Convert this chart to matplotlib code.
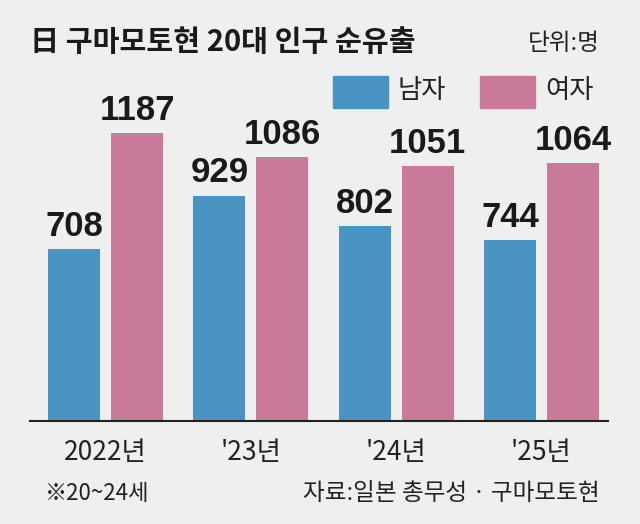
import numpy as np
import matplotlib
matplotlib.use("Agg")
import matplotlib.pyplot as plt
from matplotlib.patches import Rectangle

plt.rcParams['font.family'] = ['Noto Sans CJK KR', 'DejaVu Sans']

# Data
years = ['2022년', "'23년", "'24년", "'25년"]
male = [708, 929, 802, 744]
female = [1187, 1086, 1051, 1064]

BG = '#efefef'
BLUE = '#4a94c4'
PINK = '#c97a9a'
W, H = 640, 524

fig = plt.figure(figsize=(W / 100, H / 100), dpi=100, facecolor=BG)

def fx(px):
    return px / W

def fy(py):
    return 1 - py / H

# axes: baseline at y=421, x from 30 to 608
ax = fig.add_axes([fx(30), fy(421), fx(578), 364 / H])
ax.set_facecolor(BG)
ax.set_xlim(-0.52, 3.458)
ax.set_ylim(0, 1500)

x = np.arange(len(years))
bw = 0.358
off = 0.217
ax.bar(x - off, male, bw, color=BLUE, zorder=2)
ax.bar(x + off, female, bw, color=PINK, zorder=2)

num_font = ['Liberation Sans', 'DejaVu Sans']
for xi, v in zip(x - off, male):
    ax.text(xi, v + 25, f'{v}', ha='center', va='bottom', fontsize=25,
            fontweight='bold', family=num_font, color='#1a1a1a')
for xi, v in zip(x + off, female):
    ax.text(xi, v + 25, f'{v}', ha='center', va='bottom', fontsize=25,
            fontweight='bold', family=num_font, color='#1a1a1a')

for s in ['top', 'right', 'left']:
    ax.spines[s].set_visible(False)
ax.spines['bottom'].set_color('#222222')
ax.spines['bottom'].set_linewidth(1.5)
ax.set_yticks([])
ax.set_xticks(x)
ax.set_xticklabels(years, fontsize=19, color='#222222')
ax.tick_params(axis='x', length=0, pad=13)

# title
fig.text(fx(30), fy(42), '日 구마모토현 20대 인구 순유출', fontsize=21,
         fontweight='bold', va='center', ha='left', color='#1a1a1a')
fig.text(fx(600), fy(44), '단위:명', fontsize=17, va='center', ha='right',
         color='#222222')

# legend
fig.patches.append(Rectangle((fx(333), fy(108)), fx(55), 32 / H,
                             transform=fig.transFigure, color=BLUE))
fig.patches.append(Rectangle((fx(480), fy(108)), fx(55), 32 / H,
                             transform=fig.transFigure, color=PINK))
fig.text(fx(398), fy(91), '남자', fontsize=19, va='center', ha='left', color='#222222')
fig.text(fx(545), fy(91), '여자', fontsize=19, va='center', ha='left', color='#222222')

# footer
fig.text(fx(45), fy(494), '※20~24세', fontsize=16, va='center', ha='left', color='#222222')
fig.text(fx(600), fy(494), '자료:일본 총무성 · 구마모토현', fontsize=17, va='center',
         ha='right', color='#222222')

fig.savefig('out.png', dpi=100, facecolor=BG)
